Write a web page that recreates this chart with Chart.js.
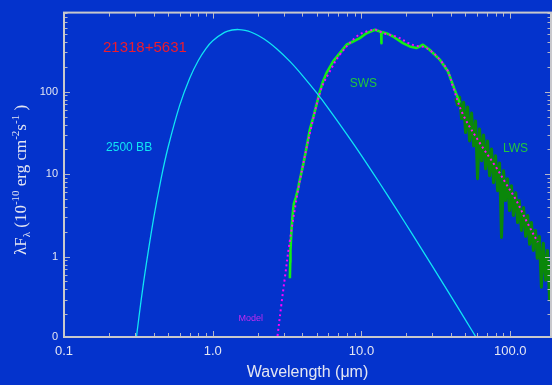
<!DOCTYPE html>
<html><head><meta charset="utf-8">
<script src="https://cdn.jsdelivr.net/npm/chart.js@4"></script>
<style>html,body{margin:0;padding:0;background:#0433cc;overflow:hidden}#wrap{width:552px;height:385px}</style>
</head><body><div id="wrap"><canvas id="c" width="552" height="385"></canvas></div>
<script>
// ---- data ----
const bbWavelength = [0.30,0.32,0.35,0.40,0.45,0.50,0.60,0.70,0.80,0.90,1.0,1.2,1.35,1.5,1.65,1.8,2.2,2.7,3.3,4,5,6,8,10,13,17,22,30,40,50,60];
const bbFlux       = [0.075,0.193,0.63,2.87,8.9,20.9,68.7,146,239,333,414,524,560,567,554,529,439,330,233,158,96.5,62.5,30.2,16.8,8.2,3.87,1.86,0.76,0.33,0.171,0.100];

const modelWavelength = [2.70,2.90,3.06,3.30,3.85,4.73,5.39,6.13,7.15,9.26,10.8,12.6,14.0,15.5,18.1,20.0,23.0,26.0,29.5,33.6,38.1,41.2,48.1,62.2,80.5,94.0,110,128,153];
const modelFlux       = [0.095,0.271,0.57,1.57,8.3,46.2,111,177,281,467,537,562,512,490,446,400,360,350,308,245,177,115,53.1,24.1,12.05,7.6,4.78,2.74,1.50];

const swsWavelength = [3.30,3.32,3.33,3.39,3.45,3.51,3.62,3.76,3.81,4.04,4.23,4.50,4.73,4.99,5.25,5.52,5.82,6.45,7.15,7.93,8.78,9.74,10.8,12.3,13.3,13.55,13.6,13.65,14.7,16.3,19.0,21.1,23.4,25.9,28.7,33.6,38.1,42.3,45.7];
const swsFlux       = [0.547,0.853,1.19,2.26,3.33,4.40,5.19,6.85,7.87,12.6,19.2,35.0,48.3,70.1,101,134,169,233,294,371,406,446,512,563,537,530,388,530,512,467,388,354,338,371,323,245,177,106,73.3];

const lwsWavelength = [42.9,44.3,45.7,47.1,48.6,50.1,51.7,53.3,55.0,56.7,58.5,60.3,62.2,64.2,66.2,68.3,70.4,72.6,74.9,77.2,79.7,82.2,84.8,87.4,90.2,93.0,95.9,98.9,102,105,109,112,115,119,123,127,131,135,139,143,148,152,157,162,167,173,178,184,188];
const lwsFlux       = [83.5,68.8,85.9,47.0,74.7,31.9,65.0,25.3,55.0,22.0,44.1,8.80,35.3,14.5,29.9,11.6,25.3,9.56,20.2,7.88,16.7,6.31,13.7,1.71,11.0,4.78,8.80,3.62,7.25,3.15,5.97,2.59,4.78,2.08,3.93,1.76,3.15,1.41,2.59,1.19,2.08,0.954,1.76,0.426,1.45,0.518,1.19,0.297,0.854];

const xTickValues = [0.1, 1, 10, 100];
const xTickLabels = ['0.1', '1.0', '10.0', '100.0'];
const yTickValues = [0.106, 1, 10, 100];
const yTickLabels = ['0', '1', '10', '100'];
const xRange = [0.1, 188];
const yRange = [0.106, 910];

const labelTexts = ['21318+5631', '2500 BB', 'SWS', 'LWS', 'Model'];
const labelWavelength = [0.35, 0.274, 10.3, 108.4, 1.80];
const labelFlux = [338, 21.0, 124, 20.4, 0.179];

// ---- styling ----
const BG = '#0433cc';
const AXIS = '#c8c8cc';
const TEXT = '#e4e6f2';
const SANS = '"Liberation Sans", Arial, Helvetica, sans-serif';
const SERIF = '"Liberation Serif", "Times New Roman", serif';
const labelStyles = [
  {color:'#ee1c2c', size:15},
  {color:'#10e4f4', size:12},
  {color:'#20c83c', size:12},
  {color:'#20c83c', size:12},
  {color:'#c42cf0', size:9}
];

const pts = (xs, ys) => xs.map((x, i) => ({x, y: ys[i]}));

const bgPlugin = {
  id: 'bg',
  beforeDraw(chart) {
    const c = chart.ctx;
    c.save(); c.fillStyle = BG; c.fillRect(0, 0, chart.width, chart.height); c.restore();
  }
};

const framePlugin = {
  id: 'frame',
  afterDatasetsDraw(chart) {
    const c = chart.ctx, a = chart.chartArea;
    const xs = chart.scales.x, ys = chart.scales.y;
    c.save();
    c.strokeStyle = '#b4b6c8';
    c.lineWidth = 1;
    c.beginPath();
    for (let k = -1; k <= 2; k++) {
      for (let m = 1; m <= 9; m++) {
        const v = m * Math.pow(10, k);
        const len = m === 1 ? 6 : 4;
        if (v >= xRange[0] && v <= xRange[1]) {
          const px = Math.round(xs.getPixelForValue(v)) + 0.5;
          c.moveTo(px, a.bottom); c.lineTo(px, a.bottom - len);
          c.moveTo(px, a.top); c.lineTo(px, a.top + len);
        }
        if (v >= yRange[0] && v <= yRange[1]) {
          const py = Math.round(ys.getPixelForValue(v)) + 0.5;
          const ylen = m === 1 ? 6 : 3.5;
          c.moveTo(a.left, py); c.lineTo(a.left + ylen, py);
          c.moveTo(a.right, py); c.lineTo(a.right - ylen, py);
        }
      }
    }
    c.stroke();
    c.strokeStyle = AXIS;
    c.lineWidth = 2;
    c.strokeRect(a.left, a.top, a.right - a.left, a.bottom - a.top);
    c.restore();
  },
  afterDraw(chart) {
    const c = chart.ctx;
    const xs = chart.scales.x, ys = chart.scales.y;
    c.save();
    c.textAlign = 'center'; c.textBaseline = 'middle';
    labelTexts.forEach((t, i) => {
      const st = labelStyles[i];
      c.fillStyle = st.color;
      c.font = st.size + 'px ' + SANS;
      c.fillText(t, xs.getPixelForValue(labelWavelength[i]), ys.getPixelForValue(labelFlux[i]));
    });
    const parts = [
      {t:'\u03bbF', s:17, dy:0},
      {t:'\u03bb', s:11, dy:4},
      {t:' (10', s:17, dy:0},
      {t:'-10', s:11, dy:-7},
      {t:' erg cm', s:17, dy:0},
      {t:'-2', s:11, dy:-7},
      {t:'s', s:17, dy:0},
      {t:'-1', s:11, dy:-7},
      {t:' )', s:17, dy:0}
    ];
    let total = 0;
    parts.forEach(p => { c.font = p.s + 'px ' + SERIF; p.w = c.measureText(p.t).width; total += p.w; });
    c.translate(26, 180);
    c.rotate(-Math.PI / 2);
    c.fillStyle = TEXT;
    c.textAlign = 'left'; c.textBaseline = 'alphabetic';
    let x = -total / 2;
    parts.forEach(p => { c.font = p.s + 'px ' + SERIF; c.fillText(p.t, x, p.dy); x += p.w; });
    c.restore();
  }
};

new Chart(document.getElementById('c'), {
  type: 'line',
  data: {
    datasets: [
      {label:'LWS', data: pts(lwsWavelength, lwsFlux), borderColor:'#0a870a', borderWidth:3, borderJoinStyle:'round', pointRadius:0, tension:0, order:4},
      {label:'SWS', data: pts(swsWavelength, swsFlux), borderColor:'#14ee14', borderWidth:2.6, borderJoinStyle:'round', pointRadius:0, tension:0, order:3},
      {label:'Model', data: pts(modelWavelength, modelFlux), borderColor:'#ff00ff', borderWidth:2, borderDash:[2,3], pointRadius:0, tension:0.35, order:2},
      {label:'2500 BB', data: pts(bbWavelength, bbFlux), borderColor:'#10e4f4', borderWidth:1.3, pointRadius:0, tension:0.35, order:1}
    ]
  },
  options: {
    responsive: false,
    animation: false,
    devicePixelRatio: 1,
    layout: {padding: {left:0, right:1, top:11, bottom:0}},
    plugins: {legend:{display:false}, tooltip:{enabled:false}},
    scales: {
      x: {
        type: 'logarithmic', min: xRange[0], max: xRange[1],
        afterFit: s => { s.height = 48; },
        afterBuildTicks: s => { s.ticks = xTickValues.map(v => ({value: v})); },
        grid: {display:false, drawTicks:false},
        border: {display:false},
        ticks: {color: TEXT, font: {family: SANS, size: 13}, padding: 7, maxRotation: 0, autoSkip: false,
                callback: (v, i) => xTickLabels[i]},
        title: {display: true, text: 'Wavelength (\u03bcm)', color: TEXT, font: {family: SANS, size: 16}, padding: {top:0, bottom:3}}
      },
      y: {
        type: 'logarithmic', min: yRange[0], max: yRange[1],
        afterFit: s => { s.width = 64; },
        afterBuildTicks: s => { s.ticks = yTickValues.map(v => ({value: v})); },
        grid: {display:false, drawTicks:false},
        border: {display:false},
        ticks: {color: TEXT, font: {family: SANS, size: 11}, padding: 6, autoSkip: false,
                callback: (v, i) => yTickLabels[i]}
      }
    }
  },
  plugins: [bgPlugin, framePlugin]
});
</script>
</body></html>
